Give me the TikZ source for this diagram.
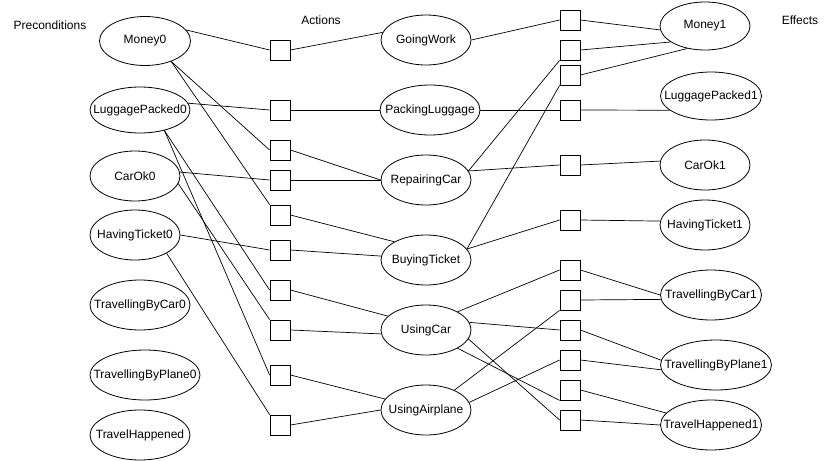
\documentclass[tikz,border=0pt]{standalone}
\usepackage{fontspec}
\setmainfont{Liberation Sans}
\usetikzlibrary{shapes.geometric}
\newcommand\zw[1]{\makebox[0pt]{#1}}
\begin{document}
\begin{tikzpicture}[x=1pt,y=-1pt,
  every node/.style={font=\fontsize{12}{14}\selectfont, inner sep=0pt},
  ell/.style={draw, ellipse, line width=0.8pt},
  box/.style={draw, rectangle, minimum width=20pt, minimum height=20pt, line width=0.8pt},
  conn/.style={line width=0.7pt},
  lbl/.style={}]
\useasboundingbox (0,0) rectangle (831,461);
% headers
\node[lbl] (hp) at (50,25) {Preconditions};
\node[lbl] (ha) at (321,20) {Actions};
\node[lbl] (he) at (800,20) {Effects};
% preconditions
\node[ell, minimum width=91pt, minimum height=49pt] (m0) at (145,41) {\zw{Money0}};
\node[ell, minimum width=100pt, minimum height=46pt] (l0) at (140,110) {\zw{LuggagePacked0}};
\node[ell, minimum width=90pt, minimum height=50pt] (c0) at (135,176) {\zw{CarOk0}};
\node[ell, minimum width=90pt, minimum height=50pt] (h0) at (135,235) {\zw{HavingTicket0}};
\node[ell, minimum width=100pt, minimum height=50pt] (tc0) at (140,305) {\zw{TravellingByCar0}};
\node[ell, minimum width=110pt, minimum height=50pt] (tp0) at (145,375) {\zw{TravellingByPlane0}};
\node[ell, minimum width=100pt, minimum height=50pt] (th0) at (140,435) {\zw{TravelHappened}};
% actions
\node[ell, minimum width=90pt, minimum height=50pt] (gw) at (426,40) {\zw{GoingWork}};
\node[ell, minimum width=100pt, minimum height=50pt] (pl) at (430,110) {\zw{PackingLuggage}};
\node[ell, minimum width=90pt, minimum height=50pt] (rc) at (426,180) {\zw{RepairingCar}};
\node[ell, minimum width=90pt, minimum height=50pt] (bt) at (426,260) {\zw{BuyingTicket}};
\node[ell, minimum width=90pt, minimum height=50pt] (uc) at (426,330) {\zw{UsingCar}};
\node[ell, minimum width=90pt, minimum height=50pt] (ua) at (426,410) {\zw{UsingAirplane}};
% effects
\node[ell, minimum width=90pt, minimum height=48pt] (m1) at (705,26) {\zw{Money1}};
\node[ell, minimum width=101pt, minimum height=48pt] (lp1) at (711,96) {\zw{LuggagePacked1}};
\node[ell, minimum width=90pt, minimum height=50pt] (co1) at (705,165) {\zw{CarOk1}};
\node[ell, minimum width=90pt, minimum height=50pt] (ht1) at (705,225) {\zw{HavingTicket1}};
\node[ell, minimum width=101pt, minimum height=50pt] (tc1) at (711,295) {\zw{TravellingByCar1}};
\node[ell, minimum width=111pt, minimum height=50pt] (tp1) at (716,365) {\zw{TravellingByPlane1}};
\node[ell, minimum width=101pt, minimum height=50pt] (th1) at (711,425) {\zw{TravelHappened1}};
% left boxes
\foreach \n/\y in {1/50,2/110,3/150,4/180,5/215,6/250,7/290,8/330,9/375,10/425}
  \node[box] (b\n) at (280,\y) {};
% right boxes
\foreach \n/\y in {1/20,2/50,3/75,4/110,5/165,6/220,7/270,8/300,9/330,10/360,11/390,12/420}
  \node[box] (r\n) at (570,\y) {};
% preconditions -> left boxes
\draw[conn] (m0.15) -- (b1.west);
\draw[conn] (m0.-38) -- (b3.west);
\draw[conn] (m0.-38) -- (b5.north west);
\draw[conn] (l0.8) -- (b2.west);
\draw[conn] (l0.-40) -- (b7.west);
\draw[conn] (l0.-40) -- (b9.west);
\draw[conn] (c0.5) -- (b4.west);
\draw[conn] (c0.-10) -- (b8.north west);
\draw[conn] (h0.0) -- (b6.west);
\draw[conn] (h0.-30) -- (b10.north west);
% left boxes -> actions
\draw[conn] (b1.east) -- (gw.170);
\draw[conn] (b2.east) -- (pl.west);
\draw[conn] (b3.east) -- (rc.west);
\draw[conn] (b4.east) -- (rc.west);
\draw[conn] (b5.east) -- (bt.150);
\draw[conn] (b6.east) -- (bt.175);
\draw[conn] (b7.east) -- (uc.160);
\draw[conn] (b8.east) -- (uc.185);
\draw[conn] (b9.east) -- (ua.165);
\draw[conn] (b10.east) -- (ua.west);
% actions -> right boxes
\draw[conn] (gw.east) -- (r1.west);
\draw[conn] (rc.12) -- (r2.south west);
\draw[conn] (bt.15) -- (r3.south west);
\draw[conn] (pl.east) -- (r4.west);
\draw[conn] (rc.12) -- (r5.west);
\draw[conn] (bt.15) -- (r6.west);
\draw[conn] (uc.30) -- (r7.west);
\draw[conn] (ua.35) -- (r8.south west);
\draw[conn] (uc.10) -- (r9.west);
\draw[conn] (ua.10) -- (r10.west);
\draw[conn] (uc.-30) -- (r11.south west);
\draw[conn] (uc.-12) -- (r12.west);
% right boxes -> effects
\draw[conn] (r1.east) -- (m1.185);
\draw[conn] (r2.east) -- (m1.205);
\draw[conn] (r3.east) -- (m1.232);
\draw[conn] (r4.east) -- (lp1.199);
\draw[conn] (r5.east) -- (co1.175);
\draw[conn] (r6.east) -- (ht1.175);
\draw[conn] (r7.east) -- (tc1.west);
\draw[conn] (r8.east) -- (tc1.185);
\draw[conn] (r9.east) -- (tp1.175);
\draw[conn] (r10.east) -- (tp1.185);
\draw[conn] (r11.east) -- (th1.165);
\draw[conn] (r12.east) -- (th1.west);
\end{tikzpicture}
\end{document}
